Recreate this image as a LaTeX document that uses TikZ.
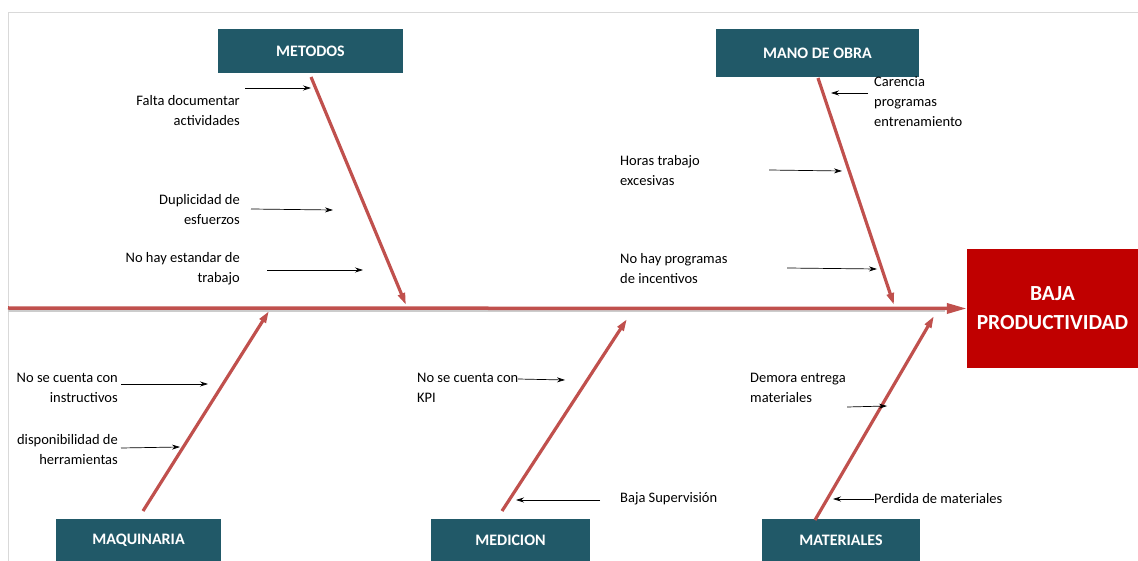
\documentclass[tikz,border=0pt]{standalone}
\usepackage{fontspec}
\setmainfont{Carlito}
\usetikzlibrary{arrows,arrows.meta}
\definecolor{boxteal}{RGB}{33,89,104}
\definecolor{effectred}{RGB}{192,0,0}
\definecolor{bonered}{RGB}{192,80,77}
\tikzstyle{category}=[fill=boxteal,text=white,font=\fontsize{16}{18}\selectfont\bfseries,inner sep=0pt]
\tikzstyle{effect}=[fill=effectred,text=white,font=\fontsize{21.5}{29}\selectfont\bfseries,align=center,inner sep=0pt,minimum width=171pt,minimum height=118pt]
\tikzstyle{cause}=[font=\fontsize{14.5}{20}\selectfont,inner sep=0pt]
\tikzstyle{bone}=[draw=bonered,line width=3.2pt,-{Triangle[length=12pt,width=7pt]}]
\tikzstyle{spine}=[draw=bonered,line width=3.5pt,-{Triangle[length=20pt,width=10pt]}]
\tikzstyle{causearrow}=[draw,line width=0.7pt,-{Stealth[length=8pt,width=5pt]}]

\begin{document}
\begin{tikzpicture}[x=1pt,y=-1pt]
    \useasboundingbox (0,0) rectangle (1138,561);
    % frame of the sheet
    \draw[black!15] (8,561) -- (8,12) -- (1138,12);
    % effect and categories
    \node[effect] (effect) at (1052.5,308.5) {BAJA\\PRODUCTIVIDAD};
    \node[category,minimum width=185pt,minimum height=44pt] (metodos) at (310.5,51) {METODOS};
    \node[category,minimum width=203pt,minimum height=48pt] (manoobra) at (817.5,53) {MANO DE OBRA};
    \node[category,minimum width=165pt,minimum height=42pt] (maquinaria) at (138.5,540) {MAQUINARIA};
    \node[category,minimum width=159pt,minimum height=42pt] (medicion) at (510.5,540) {MEDICION};
    \node[category,minimum width=158pt,minimum height=42pt] (materiales) at (841,540) {MATERIALES};
    % causes
    \node[cause,anchor=east,align=right] (falta) at (240,111) {Falta documentar\\actividades};
    \node[cause,anchor=east,align=right] (duplicidad) at (240,210) {Duplicidad de\\esfuerzos};
    \node[cause,anchor=east,align=right] (estandar) at (240,269) {No hay estandar de\\trabajo};
    \node[cause,anchor=west,align=left] (carencia) at (874,102) {Carencia\\programas\\entrenamiento};
    \node[cause,anchor=west,align=left] (horas) at (620,171) {Horas trabajo\\excesivas};
    \node[cause,anchor=west,align=left] (incentivos) at (620,269) {No hay programas\\de incentivos};
    \node[cause,anchor=east,align=right] (instructivos) at (118,388) {No se cuenta con\\instructivos};
    \node[cause,anchor=east,align=right] (herramientas) at (118,450) {disponibilidad de\\herramientas};
    \node[cause,anchor=west,align=left] (kpi) at (417,388) {No se cuenta con\\KPI};
    \node[cause,anchor=west,align=left] (supervision) at (620,499) {Baja Supervisión};
    \node[cause,anchor=west,align=left] (demora) at (750,388) {Demora entrega\\materiales};
    \node[cause,anchor=west,align=left] (perdida) at (874,499) {Perdida de materiales};
    % ends of the bones and of the small arrows
    \foreach \name/\px/\py in {tail/8/308, shadowA/8/311, shadowB/945/311, metodosTop/311/77, metodosEnd/406/305,
        manoTop/818/78, manoEnd/894/305, maqBot/143/511, maqEnd/269/311,
        medBot/502/511, medEnd/627/319, matBot/815/520, matEnd/934/316,
        a1/245/88, b1/311/88, a2/251/209, b2/333/210, a3/267/270, b3/363/270,
        a4/868/93, b4/831/93, a5/769/170, b5/842/171, a6/787/268, b6/877/269,
        a7/121/384, b7/208/384, a8/121/448, b8/180/447, a9/518/379, b9/565/380,
        a10/600/500, b10/516/500, a11/847/407, b11/887/406, a12/874/499, b12/833/499}
        \coordinate (\name) at (\px,\py);
    % spine and bones
    \draw[black!20,line width=2pt] (shadowA) -- (shadowB);
    \path[spine] (tail) -- (effect.west);
    \foreach \source/\dest in {metodosTop/metodosEnd, manoTop/manoEnd, maqBot/maqEnd, medBot/medEnd, matBot/matEnd}
        \path[bone] (\source) -- (\dest);
    % small arrows
    \foreach \source/\dest in {a1/b1, a2/b2, a3/b3, a4/b4, a5/b5, a6/b6, a7/b7, a8/b8, a9/b9, a10/b10, a11/b11, a12/b12}
        \path[causearrow] (\source) -- (\dest);
\end{tikzpicture}
\end{document}
